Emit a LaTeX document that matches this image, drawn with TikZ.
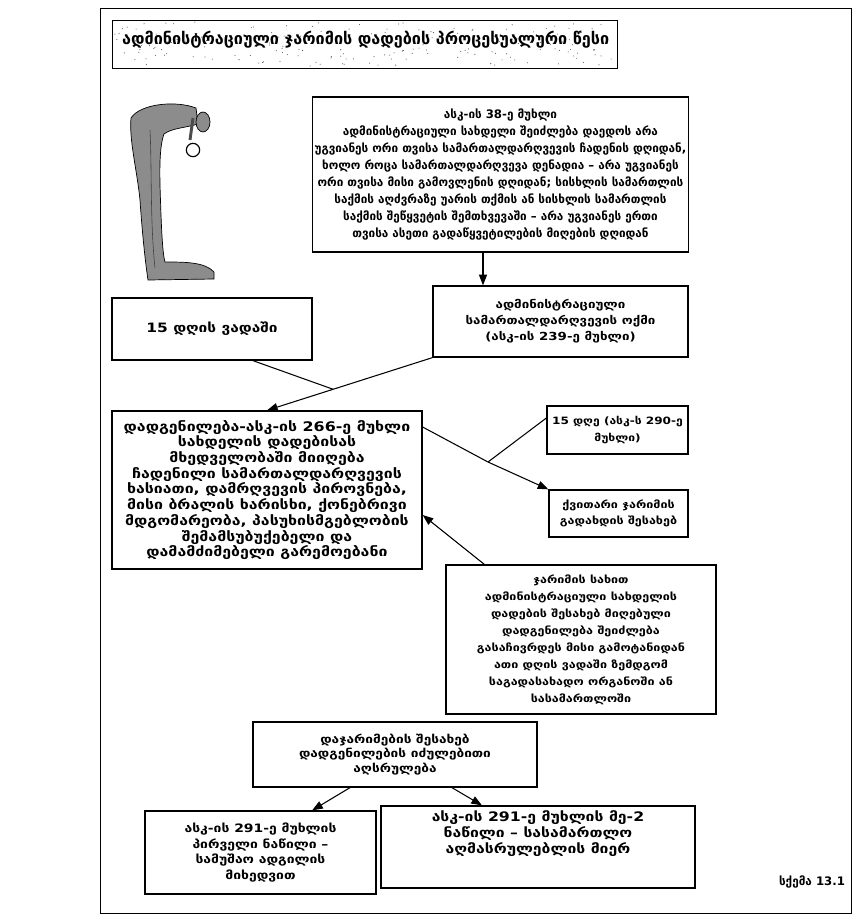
\documentclass[tikz,border=0pt]{standalone}
\usepackage{fontspec}
\setmainfont{DejaVu Sans}
\newfontfamily\gewide{DejaVu Sans}[FakeStretch=1.2]
\usetikzlibrary{arrows.meta,calc}
% Georgian text sizes: wide and normal cut
\newcommand{\gsz}[2]{\gewide\bfseries\fontsize{#1}{#2}\selectfont}
\newcommand{\gszn}[2]{\bfseries\fontsize{#1}{#2}\selectfont}

\begin{document}
\begin{tikzpicture}[x=0.03cm,y=-0.03cm,
  blok/.style={draw,line width=1.1pt,align=center,inner sep=2pt},
  arr/.style={-{Triangle[length=3.2mm,width=2.4mm]},line width=0.9pt},
  lnk/.style={line width=0.9pt}]
\useasboundingbox (0,0) rectangle (865,922);

% outer frame
\draw[line width=0.6pt] (100,8) rectangle (851,913);

% title with speckled ground
\draw[line width=0.6pt] (112,20) rectangle (617,68);
\pgfmathsetseed{3}
\foreach \k in {1,...,180}{
  \pgfmathsetmacro{\sx}{114+501*rnd}
  \pgfmathsetmacro{\sy}{22+44*rnd}
  \fill[black!70] (\sx,\sy) circle (0.45pt);
}
\node[anchor=west,font=\gszn{13.8}{15}] (satauri) at (118,40)
  {ადმინისტრაციული ჯარიმის დადების პროცესუალური წესი};

% bent-over figure with a magnifying glass
\filldraw[fill=black!45,draw=black,line width=0.6pt]
  (131,118) .. controls (140,104) and (175,100) .. (196,108)
  -- (198,124)
  .. controls (185,128) and (172,128) .. (164,134)
  .. controls (158,150) and (160,185) .. (161,215)
  .. controls (162,240) and (163,255) .. (165,262)
  .. controls (185,262) and (205,262) .. (214,272)
  -- (214,279) -- (148,280)
  .. controls (145,260) and (142,230) .. (140,200)
  .. controls (137,170) and (129,140) .. cycle;
\draw[black!75,line width=0.5pt] (150,130) .. controls (152,170) and (150,220) .. (155,268);
\filldraw[fill=black!45,draw=black,line width=0.6pt] (203,122) ellipse (0.21cm and 0.3cm);
\draw[line width=2.5pt,black!70] (193,118) -- (190,140);
\draw[line width=1pt,fill=white] (193,150) circle (0.2cm);

% boxes
\node[blok,minimum width=11.25cm,minimum height=4.65cm,font=\gszn{10}{14.5}] (ukhle) at (500.5,174.5)
  {ასკ-ის 38-ე მუხლი\\
   ადმინისტრაციული სახდელი შეიძლება დაედოს არა\\
   უგვიანეს ორი თვისა სამართალდარღვევის ჩადენის დღიდან,\\
   ხოლო როცა სამართალდარღვევა დენადია – არა უგვიანეს\\
   ორი თვისა მისი გამოვლენის დღიდან; სისხლის სამართლის\\
   საქმის აღძვრაზე უარის თქმის ან სისხლის სამართლის\\
   საქმის შეწყვეტის შემთხვევაში – არა უგვიანეს ერთი\\
   თვისა ასეთი გადაწყვეტილების მიღების დღიდან};
\node[blok,minimum width=7.65cm,minimum height=2.13cm,font=\gsz{9.5}{13.6}] (oqmi) at (560.5,321.5)
  {ადმინისტრაციული\\ სამართალდარღვევის ოქმი\\ (ასკ-ის 239-ე მუხლი)};
\node[blok,minimum width=6cm,minimum height=1.86cm,font=\gsz{11}{14}] (vada) at (212,329)
  {15 დღის ვადაში};
\node[blok,minimum width=9.3cm,minimum height=4.74cm,font=\gsz{11.3}{13.4}] (dadg) at (267,490)
  {დადგენილება-ასკ-ის 266-ე მუხლი\\
   სახდელის დადებისას\\
   მხედველობაში მიიღება\\
   ჩადენილი სამართალდარღვევის\\
   ხასიათი, დამრღვევის პიროვნება,\\
   მისი ბრალის ხარისხი, ქონებრივი\\
   მდგომარეობა, პასუხისმგებლობის\\
   შემამსუბუქებელი და\\
   დამამძიმებელი გარემოებანი};
\node[blok,minimum width=4.23cm,minimum height=1.44cm,font=\gsz{8.6}{15}] (vada2) at (617.5,430)
  {15 დღე (ასკ-ს 290-ე\\ მუხლი)};
\node[blok,minimum width=4.17cm,minimum height=1.41cm,font=\gsz{8.9}{13.6}] (kvit) at (618.5,513.5)
  {ქვითარი ჯარიმის\\ გადახდის შესახებ};
\node[blok,minimum width=8.1cm,minimum height=4.47cm,font=\gsz{8.9}{14.5}] (sachivr) at (581,639.5)
  {ჯარიმის სახით\\
   ადმინისტრაციული სახდელის\\
   დადების შესახებ მიღებული\\
   დადგენილება შეიძლება\\
   გასაჩივრდეს მისი გამოტანიდან\\
   ათი დღის ვადაში ზემდგომ\\
   საგადასახადო ორგანოში ან\\
   სასამართლოში};
\node[blok,minimum width=8.52cm,minimum height=1.95cm,font=\gsz{9.7}{12.5}] (aghsr) at (395,754.5)
  {დაჯარიმების შესახებ\\ დადგენილების იძულებითი\\ აღსრულება};
\node[blok,minimum width=6.93cm,minimum height=2.49cm,font=\gsz{9.9}{13.2}] (samush) at (260.5,852.5)
  {ასკ-ის 291-ე მუხლის\\ პირველი ნაწილი –\\ სამუშაო ადგილის\\ მიხედვით};
\node[blok,minimum width=9.42cm,minimum height=2.46cm,font=\gsz{11.2}{13.5},text depth=0.9cm] (aghmasr) at (538,847)
  {ასკ-ის 291-ე მუხლის მე-2\\ ნაწილი – სასამართლო\\ აღმასრულებლის მიერ};
\node[font=\gszn{10}{12}] (sqema) at (812,882) {სქემა 13.1};

% connectors
\draw[arr] ([xshift=-5.25mm]ukhle.south) -- ([xshift=-5.25mm]ukhle.south |- oqmi.north);
\draw[arr] (oqmi.south west) -- (dadg.north);
\coordinate (j1) at ($(oqmi.south west)!0.6!(dadg.north)$);
\draw[lnk] ([xshift=1.23cm]vada.south) -- (j1);
\coordinate (j2) at (488,462);
\draw[lnk] ([yshift=-5mm]dadg.north east) -- (j2);
\draw[lnk] (j2) -- ([yshift=3.6mm]vada2.west);
\draw[arr] (j2) -- (kvit.north west);
\draw[arr] ([xshift=1.17cm]sachivr.north west) -- ([yshift=-7.5mm]dadg.east);
\draw[arr] ([xshift=-1.35cm]aghsr.south) -- ([xshift=1.55cm]samush.north);
\draw[arr] ([xshift=1.71cm]aghsr.south) -- ([xshift=-1.68cm]aghmasr.north);
\end{tikzpicture}
\end{document}
